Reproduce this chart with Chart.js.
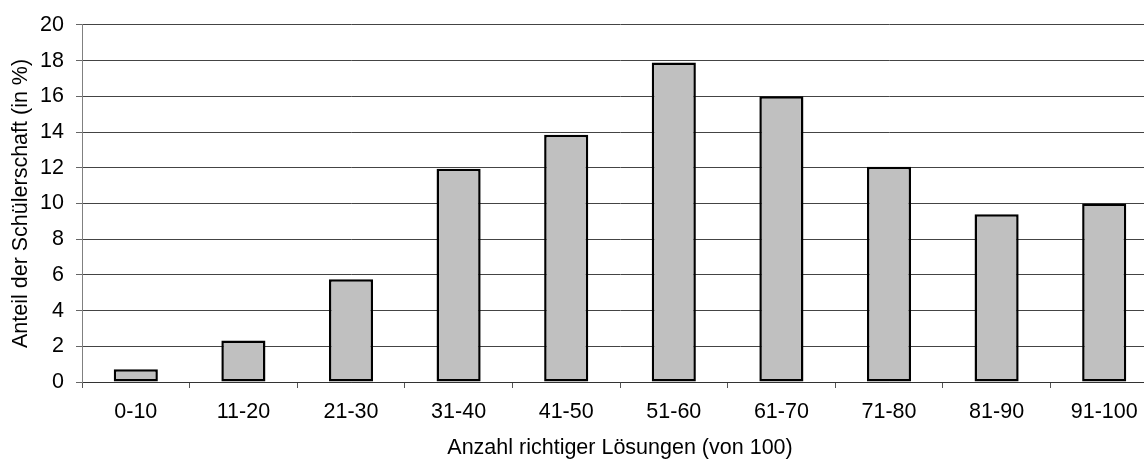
<!DOCTYPE html>
<html>
<head>
<meta charset="utf-8">
<script src="https://cdn.jsdelivr.net/npm/chart.js@4.4.1/dist/chart.umd.min.js"></script>
<style>
  html, body { margin: 0; padding: 0; background: #fff; overflow: hidden; }
  #wrap { position: relative; width: 1158px; height: 459px; }
</style>
</head>
<body>
<div id="wrap"><canvas id="c"></canvas></div>
<script>
const categories = ["0-10", "11-20", "21-30", "31-40", "41-50", "51-60", "61-70", "71-80", "81-90", "91-100"];
const shares = [0.72, 2.32, 5.75, 11.95, 13.85, 17.9, 16.0, 12.05, 9.4, 10.0];
const yTitle = "Anteil der Schülerschaft (in %)";
const xTitle = "Anzahl richtiger Lösungen (von 100)";

const font = { family: "'Liberation Sans', Arial, sans-serif", size: 21.5 };

new Chart(document.getElementById('c'), {
  type: 'bar',
  data: {
    labels: categories,
    datasets: [{
      data: shares,
      backgroundColor: '#c0c0c0',
      borderColor: '#000000',
      borderWidth: 2.5,
      borderSkipped: false,
      barPercentage: 0.41,
      categoryPercentage: 1.0
    }]
  },
  options: {
    responsive: true,
    maintainAspectRatio: false,
    animation: false,
    devicePixelRatio: 1,
    layout: { padding: { top: 23, left: 0, right: 0, bottom: 0 } },
    plugins: { legend: { display: false }, tooltip: { enabled: false } },
    scales: {
      x: {
        grid: { display: true, drawOnChartArea: false, offset: true, tickLength: 6, color: '#555555', tickColor: '#555555' },
        border: { display: true, color: '#333333', width: 1 },
        ticks: { color: '#000', font: font, padding: 11, maxRotation: 0, autoSkip: false },
        title: { display: true, text: xTitle, color: '#000', font: font, padding: { top: 4, bottom: -2 } },
        afterFit: (s) => { s.height = 77; }
      },
      y: {
        min: 0, max: 20,
        ticks: { stepSize: 2, color: '#000', font: font, padding: 12 },
        grid: { color: '#444444', tickLength: 6, tickColor: '#666666' },
        border: { display: true, color: '#808080', width: 1 },
        title: { display: true, text: yTitle, color: '#000', font: font, padding: { top: 8, bottom: 0 } },
        afterFit: (s) => { s.width = 82; }
      }
    }
  }
});
</script>
</body>
</html>
